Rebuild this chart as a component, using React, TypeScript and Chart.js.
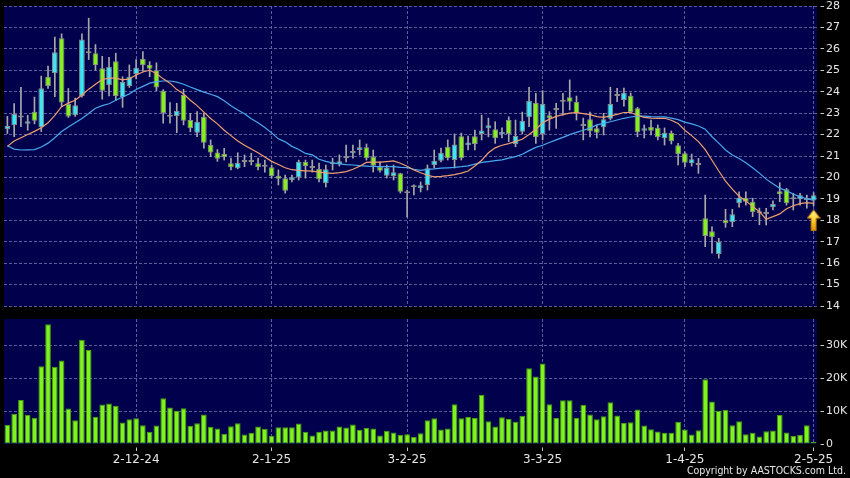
import React, { useEffect, useRef } from "react";
import { Chart, registerables } from "chart.js";

Chart.register(...registerables);

// ---------- data ----------
const dates: string[] = [
  "5-11-24","6-11-24","7-11-24","8-11-24","11-11-24","12-11-24","13-11-24","14-11-24","15-11-24","18-11-24",
  "19-11-24","20-11-24","21-11-24","22-11-24","25-11-24","26-11-24","27-11-24","28-11-24","29-11-24",
  "2-12-24","3-12-24","4-12-24","5-12-24","6-12-24","9-12-24","10-12-24","11-12-24","12-12-24","13-12-24",
  "16-12-24","17-12-24","18-12-24","19-12-24","20-12-24","23-12-24","24-12-24","27-12-24","30-12-24","31-12-24",
  "2-1-25","3-1-25","6-1-25","7-1-25","8-1-25","9-1-25","10-1-25","13-1-25","14-1-25","15-1-25",
  "16-1-25","17-1-25","20-1-25","21-1-25","22-1-25","23-1-25","24-1-25","27-1-25","28-1-25","31-1-25",
  "3-2-25","4-2-25","5-2-25","6-2-25","7-2-25","10-2-25","11-2-25","12-2-25","13-2-25","14-2-25",
  "17-2-25","18-2-25","19-2-25","20-2-25","21-2-25","24-2-25","25-2-25","26-2-25","27-2-25","28-2-25",
  "3-3-25","4-3-25","5-3-25","6-3-25","7-3-25","10-3-25","11-3-25","12-3-25","13-3-25","14-3-25",
  "17-3-25","18-3-25","19-3-25","20-3-25","21-3-25","24-3-25","25-3-25","26-3-25","27-3-25","28-3-25","31-3-25",
  "1-4-25","2-4-25","3-4-25","7-4-25","8-4-25","9-4-25","10-4-25","11-4-25","14-4-25","15-4-25",
  "16-4-25","17-4-25","22-4-25","23-4-25","24-4-25","25-4-25","28-4-25","29-4-25","30-4-25",
  "2-5-25",
];

const tickDates = ["2-12-24", "2-1-25", "3-2-25", "3-3-25", "1-4-25", "2-5-25"];

const opens = [
  22.25,22.43,22.80,22.50,23.07,22.34,24.70,24.86,26.50,23.43,
  22.90,23.80,25.80,25.80,25.10,24.30,25.42,23.74,24.27,24.83,
  25.54,25.26,25.00,24.05,22.83,22.87,23.85,22.68,22.09,22.83,
  21.51,21.16,21.09,20.66,20.43,20.72,20.72,20.66,20.50,20.47,
  20.08,19.96,19.88,20.00,20.73,20.44,20.39,19.73,20.61,20.63,
  20.91,21.13,21.28,21.41,20.97,20.50,20.08,20.07,20.19,19.26,
  19.54,19.49,19.65,20.58,20.78,21.43,20.81,21.92,21.50,21.92,
  22.03,22.29,22.25,22.01,22.68,21.56,22.13,22.81,23.49,22.03,
  22.90,23.15,23.53,23.74,23.53,22.40,22.71,22.29,22.34,22.74,
  23.80,23.61,23.81,23.23,22.18,22.37,22.32,21.83,22.09,21.50,
  21.13,20.66,20.58,18.09,17.49,16.43,18.01,17.91,18.79,19.05,
  18.87,18.33,18.29,18.61,19.35,19.45,18.98,18.98,18.95,18.92,
];
const highs = [
  22.85,23.45,24.20,22.90,23.75,24.73,25.20,26.55,26.70,24.15,
  23.70,26.70,27.43,26.20,25.65,25.60,25.80,24.70,25.25,25.50,
  25.87,25.40,25.35,24.10,23.49,23.46,24.11,22.99,23.07,22.99,
  21.75,21.30,21.36,20.90,21.15,21.05,21.13,20.90,20.81,20.58,
  20.35,20.11,20.11,20.81,20.81,20.81,20.67,20.58,20.90,21.05,
  21.51,21.51,21.75,21.56,21.28,20.72,20.58,20.58,20.20,19.41,
  19.65,19.79,20.58,21.28,21.37,21.75,22.03,22.07,21.93,22.21,
  22.91,22.77,22.60,22.31,22.83,22.68,23.05,24.21,23.93,24.05,
  23.07,23.46,23.93,24.55,23.80,22.77,23.05,22.45,22.99,24.21,
  24.16,24.17,23.94,23.27,22.45,22.68,22.45,22.31,22.17,21.59,
  21.20,21.09,20.89,19.18,17.70,17.16,18.51,18.51,19.33,19.33,
  19.03,18.57,18.56,18.91,19.75,19.49,19.26,19.26,19.18,19.29,
];
const lows = [
  22.05,21.90,22.37,22.20,22.50,22.14,24.15,23.77,23.30,22.80,
  22.85,23.74,25.50,25.00,23.65,23.80,23.60,23.27,24.20,24.60,
  24.95,24.70,24.05,22.53,22.53,22.09,22.45,22.13,21.90,21.36,
  20.97,20.75,20.81,20.35,20.40,20.50,20.58,20.35,20.25,19.97,
  19.65,19.27,19.79,19.88,19.97,20.25,19.79,19.55,20.35,20.53,
  20.72,20.90,21.05,20.81,20.25,20.25,19.97,19.88,19.27,18.14,
  19.18,19.32,19.41,20.44,20.72,20.81,20.44,20.81,21.28,21.28,
  21.75,21.89,21.59,21.84,21.67,21.43,22.03,22.37,21.59,21.75,
  22.21,22.29,22.91,23.15,22.68,21.75,21.89,21.84,21.98,22.68,
  23.53,23.33,23.01,21.90,21.84,21.98,21.75,21.51,21.56,20.58,
  20.50,20.53,20.19,16.77,16.46,16.23,17.67,17.70,18.61,18.71,
  18.17,17.79,17.78,18.48,18.87,18.71,18.48,18.71,18.56,18.67,
];
const closes = [
  22.40,22.96,22.80,22.62,22.65,24.16,24.27,25.84,23.50,22.84,
  23.37,26.44,25.80,25.23,24.05,25.17,23.80,24.45,24.70,25.12,
  25.23,25.07,24.20,23.00,22.83,23.11,22.65,22.29,22.60,21.62,
  21.16,20.87,20.94,20.47,20.69,20.72,20.72,20.47,20.58,20.07,
  19.94,19.38,20.01,20.73,20.53,20.53,19.91,20.38,20.61,20.75,
  21.00,21.23,21.41,20.89,20.55,20.31,20.45,20.24,19.33,19.26,
  19.54,19.63,20.43,20.78,21.15,20.89,21.54,20.89,21.63,21.56,
  22.19,22.43,21.83,22.13,22.03,21.93,22.65,23.58,21.87,23.43,
  22.76,23.15,23.53,23.53,22.99,22.40,22.15,22.09,22.71,23.43,
  23.80,23.95,23.05,22.11,22.29,22.18,21.87,22.09,21.69,21.09,
  20.69,20.85,20.58,17.27,17.21,16.99,17.86,18.28,19.05,18.87,
  18.39,18.42,18.39,18.76,19.21,18.79,18.98,19.17,18.95,19.17,
];
const volumes = [
  5800,9200,13400,8900,8000,23600,36400,23500,25400,10800,
  7200,31700,28600,8300,12000,12300,11600,6500,7500,7800,
  5700,3700,5600,13900,11100,10100,10900,5500,6300,9000,
  5200,4700,3100,5400,6300,2900,3400,5300,4600,2500,
  5100,5100,5100,6200,3700,2600,3700,4100,4100,5300,
  5000,5900,4300,4900,4700,2600,4000,3500,2700,3000,
  2100,3300,7200,7800,4400,4700,12100,7800,8200,7900,
  14900,6900,5300,8100,7600,6800,8600,23000,20500,24500,
  12100,7900,13300,13300,7900,11900,9000,7500,8400,12700,
  8700,6400,6600,10500,5600,4500,3800,3400,3400,6800,
  4400,2900,4200,19700,12900,10100,10300,5700,6900,3000,
  3400,2300,3900,4100,8800,3500,2400,2700,5700,700,
];
const ma10 = [
  21.45,21.70,21.85,22.00,22.15,22.32,22.55,22.90,23.30,23.47,
  23.60,23.85,24.12,24.35,24.57,24.63,24.63,24.55,24.60,24.78,
  24.92,25.00,24.85,24.60,24.40,24.10,23.90,23.60,23.35,23.05,
  22.75,22.50,22.20,21.95,21.70,21.50,21.33,21.15,20.95,20.75,
  20.60,20.45,20.36,20.33,20.31,20.29,20.25,20.21,20.19,20.22,
  20.27,20.38,20.52,20.70,20.71,20.71,20.74,20.77,20.66,20.52,
  20.35,20.22,20.10,20.03,20.05,20.08,20.13,20.20,20.30,20.53,
  20.80,21.15,21.38,21.50,21.58,21.68,21.78,22.00,22.25,22.55,
  22.72,22.85,22.93,23.00,23.02,22.98,22.93,22.84,22.80,22.87,
  22.94,23.03,23.03,22.90,22.80,22.77,22.76,22.76,22.67,22.52,
  22.20,21.95,21.67,21.30,20.80,20.30,19.83,19.45,19.12,18.90,
  18.65,18.40,18.05,18.17,18.30,18.54,18.68,18.78,18.82,18.79,
];
const ma20 = [
  21.48,21.32,21.28,21.29,21.30,21.42,21.60,21.85,22.14,22.35,
  22.55,22.75,22.98,23.23,23.35,23.44,23.60,23.75,23.90,24.10,
  24.25,24.40,24.47,24.50,24.50,24.45,24.35,24.22,24.10,23.98,
  23.88,23.77,23.58,23.35,23.15,22.97,22.74,22.55,22.33,22.08,
  21.80,21.66,21.45,21.30,21.12,21.05,20.85,20.75,20.68,20.63,
  20.60,20.58,20.55,20.53,20.51,20.50,20.50,20.50,20.47,20.46,
  20.38,20.33,20.38,20.40,20.43,20.45,20.47,20.50,20.54,20.62,
  20.70,20.74,20.78,20.82,20.90,20.97,21.08,21.25,21.40,21.50,
  21.63,21.75,21.87,22.00,22.10,22.20,22.30,22.45,22.52,22.60,
  22.68,22.76,22.82,22.86,22.86,22.84,22.83,22.83,22.77,22.70,
  22.58,22.50,22.40,22.25,21.90,21.60,21.28,21.05,20.88,20.68,
  20.45,20.20,19.92,19.70,19.50,19.38,19.22,19.10,19.00,18.94,
];
const signalDate = "2-5-25";
const signalPrice = 18.0;
const priceMin = 14;
const priceMax = 28;
const volumeMax = 38000;
const volumeTicks = [0, 10000, 20000, 30000];
const copyright = "Copyright by AASTOCKS.com Ltd.";

// ---------- styles ----------
const NAVY = "#00004c";
const GRID = "#5c5c9c";
const DASH = [3, 2];
const TEXT = "#e6e6e6";
const CYAN = "#3ee6f4";
const GREEN = "#86f01e";
const DOJI = "#a0a0a0";
const FONT = "DejaVu Sans";
const AXIS_W = 33;

const isTickDate = (i: number) => tickDates.includes(dates[i]);

const bgPlugin = {
  id: "bgPanel",
  beforeDraw(chart: any) {
    const { ctx, chartArea: a, width, height } = chart;
    ctx.save();
    ctx.fillStyle = "#000";
    ctx.fillRect(0, 0, width, height);
    ctx.fillStyle = NAVY;
    ctx.fillRect(a.left, a.top, a.right - a.left, a.bottom - a.top);
    ctx.restore();
  },
};

function makeArrow(): HTMLCanvasElement {
  const c = document.createElement("canvas");
  c.width = 14;
  c.height = 22;
  const g = c.getContext("2d")!;
  const grad = g.createLinearGradient(0, 0, 0, 22);
  grad.addColorStop(0, "#fff6a0");
  grad.addColorStop(0.5, "#ffd030");
  grad.addColorStop(1, "#d88a00");
  g.beginPath();
  g.moveTo(7, 0.5);
  g.lineTo(13.5, 9);
  g.lineTo(9.5, 9);
  g.lineTo(9.5, 21.5);
  g.lineTo(4.5, 21.5);
  g.lineTo(4.5, 9);
  g.lineTo(0.5, 9);
  g.closePath();
  g.fillStyle = grad;
  g.fill();
  g.strokeStyle = "#b07000";
  g.lineWidth = 1;
  g.stroke();
  return c;
}

const fixYAxis = (s: any) => {
  s.width = AXIS_W;
  s.paddingTop = 0;
  s.paddingBottom = 0;
};

export default function App() {
  const priceRef = useRef<HTMLCanvasElement>(null);
  const volRef = useRef<HTMLCanvasElement>(null);

  useEffect(() => {
    Chart.defaults.font.family = FONT;
    const bodies = opens.map((o, i) => [Math.min(o, closes[i]), Math.max(o, closes[i])]);
    const wicks = lows.map((l, i) => [l, highs[i]]);
    const bodyColors = opens.map((o, i) => (closes[i] > o ? CYAN : closes[i] < o ? GREEN : DOJI));
    const signal = dates.map((d) => (d === signalDate ? signalPrice : null));
    const arrow = makeArrow();

    const xGrid = {
      offset: false,
      color: (ctx: any) => (isTickDate(ctx.index) ? GRID : "rgba(0,0,0,0)"),
      borderDash: DASH,
    };

    const price = new Chart(priceRef.current!, {
      type: "bar",
      data: {
        labels: dates,
        datasets: [
          {
            type: "line",
            label: "signal",
            data: signal as any,
            showLine: false,
            pointStyle: arrow as any,
            pointRadius: 10,
            order: -2,
          } as any,
          {
            type: "line",
            label: "MA10",
            data: ma10,
            borderColor: "#f0a070",
            borderWidth: 1.2,
            pointRadius: 0,
            tension: 0,
            order: -1,
          },
          {
            type: "line",
            label: "MA20",
            data: ma20,
            borderColor: "#4aa8ee",
            borderWidth: 1.2,
            pointRadius: 0,
            tension: 0,
            order: -1,
          },
          {
            type: "bar",
            label: "body",
            data: bodies as any,
            backgroundColor: bodyColors,
            borderColor: "#8c8c8c",
            borderWidth: 1,
            borderSkipped: false,
            grouped: false,
            barPercentage: 0.84,
            categoryPercentage: 1,
            minBarLength: 2,
            order: 1,
          } as any,
          {
            type: "bar",
            label: "wick",
            data: wicks as any,
            backgroundColor: "#a8a8a8",
            borderWidth: 0,
            grouped: false,
            barThickness: 1,
            order: 2,
          } as any,
        ],
      },
      options: {
        animation: false,
        responsive: false,
        devicePixelRatio: 1,
        layout: { autoPadding: false, padding: { left: 4, top: 6, right: 0, bottom: 6 } },
        plugins: { legend: { display: false }, tooltip: { enabled: false } },
        scales: {
          x: {
            offset: true,
            afterFit: (s: any) => {
              s.height = 0;
              s.paddingLeft = 0;
              s.paddingRight = 0;
            },
            ticks: { display: false },
            grid: { ...xGrid, drawTicks: false } as any,
            border: { display: false, dash: DASH },
          },
          y: {
            position: "right",
            min: priceMin,
            max: priceMax,
            afterFit: fixYAxis,
            ticks: { stepSize: 1, color: TEXT, font: { size: 11, family: FONT }, padding: 2 },
            grid: {
              color: GRID,
              borderDash: DASH,
              tickLength: 7,
              tickColor: "#c8c8c8",
              tickBorderDash: [0, 3.5, 3.5, 20],
            } as any,
            border: { display: false, dash: DASH },
          },
        },
      },
      plugins: [bgPlugin],
    } as any);

    const vol = new Chart(volRef.current!, {
      type: "bar",
      data: {
        labels: dates,
        datasets: [
          {
            label: "Volume",
            data: volumes,
            backgroundColor: "#80f21e",
            borderColor: "#44a00c",
            borderWidth: 1,
            borderSkipped: false,
            barPercentage: 0.84,
            categoryPercentage: 1,
          } as any,
        ],
      },
      options: {
        animation: false,
        responsive: false,
        devicePixelRatio: 1,
        layout: { autoPadding: false, padding: { left: 4, top: 7, right: 0, bottom: 0 } },
        plugins: { legend: { display: false }, tooltip: { enabled: false } },
        scales: {
          x: {
            offset: true,
            afterFit: (s: any) => {
              s.height = 34;
            },
            ticks: {
              autoSkip: false,
              maxRotation: 0,
              minRotation: 0,
              color: TEXT,
              font: { size: 12, family: FONT },
              padding: 2,
              callback: (_v: any, i: number) => (isTickDate(i) ? dates[i] : ""),
            },
            grid: {
              ...xGrid,
              drawTicks: true,
              tickLength: 7,
              tickColor: (ctx: any) => (isTickDate(ctx.index) ? "#c8c8c8" : "rgba(0,0,0,0)"),
              tickBorderDash: [0, 3.5, 3.5, 20],
            } as any,
            border: { display: false, dash: DASH },
          },
          y: {
            position: "right",
            min: 0,
            max: volumeMax,
            afterFit: fixYAxis,
            afterBuildTicks: (s: any) => {
              s.ticks = volumeTicks.map((v) => ({ value: v }));
            },
            ticks: {
              color: TEXT,
              font: { size: 11, family: FONT },
              padding: 2,
              callback: (v: any) => (v === 0 ? "0" : `${v / 1000}K`),
            },
            grid: {
              color: (ctx: any) => (ctx.tick && ctx.tick.value === 0 ? "rgba(0,0,0,0)" : GRID),
              borderDash: DASH,
              tickLength: 7,
              tickColor: "#c8c8c8",
              tickBorderDash: [0, 3.5, 3.5, 20],
            } as any,
            border: { display: false, dash: DASH },
          },
        },
      },
      plugins: [bgPlugin],
    } as any);

    return () => {
      price.destroy();
      vol.destroy();
    };
  }, []);

  return (
    <div
      style={{
        position: "fixed",
        left: 0,
        top: 0,
        width: 850,
        height: 478,
        background: "#000",
        overflow: "hidden",
      }}
    >
      <canvas
        ref={priceRef}
        width={850}
        height={312}
        style={{ position: "absolute", left: 0, top: 0, width: 850, height: 312 }}
      />
      <canvas
        ref={volRef}
        width={850}
        height={166}
        style={{ position: "absolute", left: 0, top: 312, width: 850, height: 166 }}
      />
      <div
        style={{
          position: "absolute",
          right: 4,
          top: 464,
          color: "#e6e6e6",
          fontFamily: "'DejaVu Sans Condensed', 'DejaVu Sans', sans-serif",
          fontSize: 10.5,
          lineHeight: "13px",
          whiteSpace: "nowrap",
        }}
      >
        {copyright}
      </div>
    </div>
  );
}
